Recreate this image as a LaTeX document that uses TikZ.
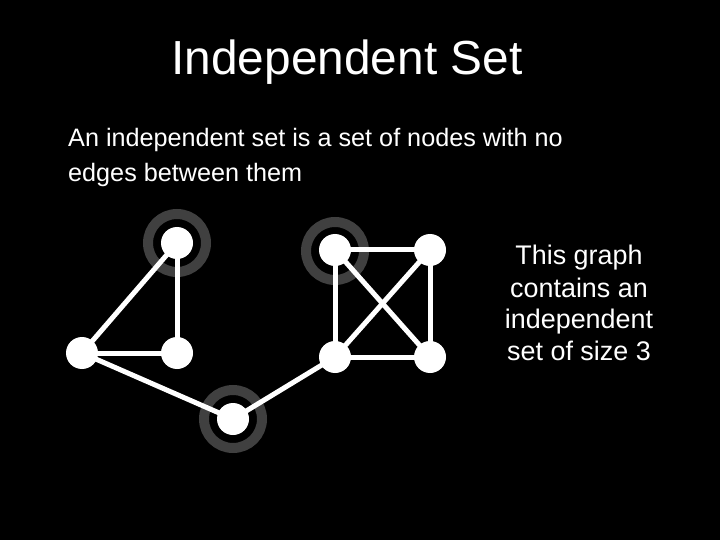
\documentclass[tikz,border=0pt]{standalone}
\usepackage{fontspec}
\setmainfont{Liberation Sans}
\begin{document}
\begin{tikzpicture}[x=1bp,y=-1bp,
  vert/.style={circle,fill=white,minimum size=32bp,inner sep=0pt},
  ring/.style={draw=ringgray,line width=10bp},
  edge/.style={draw=white,line width=5bp},
  txt/.style={text=white,inner sep=0pt}]
\definecolor{ringgray}{HTML}{404040}
\fill[black] (0,0) rectangle (720,540);
\useasboundingbox (0,0) rectangle (720,540);
% title and text
\node[txt,anchor=base,font=\fontsize{48}{54}\selectfont] (title) at (347,75) {Independent Set};
\node[txt,anchor=base west,font=\fontsize{25.3}{34}\selectfont] (l1) at (68,147) {An independent set is a set of nodes with no};
\node[txt,anchor=base west,font=\fontsize{25.3}{34}\selectfont] (l2) at (68,182) {edges between them};
\node[txt,anchor=base,font=\fontsize{27}{32}\selectfont] (r1) at (579,265) {This graph};
\node[txt,anchor=base,font=\fontsize{27}{32}\selectfont] (r2) at (579,297) {contains an};
\node[txt,anchor=base,font=\fontsize{27}{32}\selectfont] (r3) at (579,328) {independent};
\node[txt,anchor=base,font=\fontsize{27}{32}\selectfont] (r4) at (579,360) {set of size 3};
% rings
\draw[ring] (177,243) circle (29);
\draw[ring] (335,251) circle (29);
\draw[ring] (233,419) circle (29);
% coordinates of vertices
\coordinate (a) at (177,243);
\coordinate (b) at (82,353);
\coordinate (c) at (177,353);
\coordinate (d) at (233,419);
\coordinate (e) at (335,250);
\coordinate (f) at (430,250);
\coordinate (g) at (335,357);
\coordinate (h) at (430,357);
% edges
\draw[edge] (a) -- (b);
\draw[edge] (a) -- (c);
\draw[edge] (b) -- (c);
\draw[edge] (b) -- (d);
\draw[edge] (d) -- (g);
\draw[edge] (e) -- (f);
\draw[edge] (e) -- (g);
\draw[edge] (g) -- (h);
\draw[edge] (f) -- (h);
\draw[edge] (e) -- (h);
\draw[edge] (f) -- (g);
% vertices
\foreach \p in {a,b,c,d,e,f,g,h} \node[vert] (n\p) at (\p) {};
\end{tikzpicture}
\end{document}
